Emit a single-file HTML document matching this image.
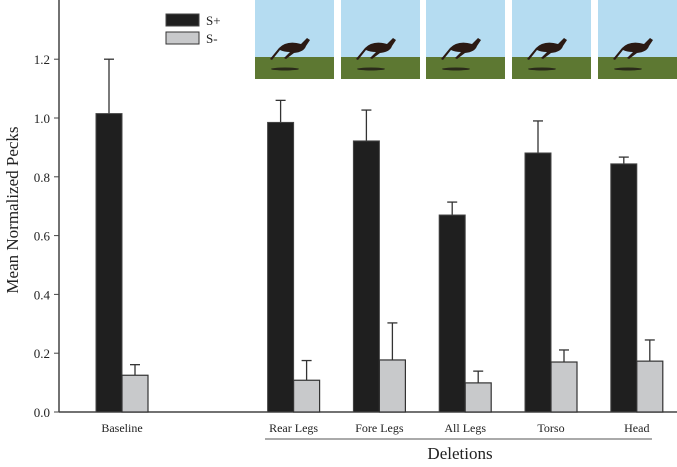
<!DOCTYPE html>
<html><head><meta charset="utf-8"><style>
body{margin:0;background:#fff}
svg text{font-family:"Liberation Serif",serif;fill:#222}
</style></head><body>
<svg width="677" height="462" xmlns="http://www.w3.org/2000/svg">
<g id="thumbs"></g>
<g id="plot"></g>
</svg>
<script>
const categories=["Baseline","Rear Legs","Fore Legs","All Legs","Torso","Head"];
const slots=[0,2,3,4,5,6];
const sPlus=[1.015,0.985,0.922,0.670,0.881,0.844];
const sPlusErr=[0.185,0.075,0.105,0.044,0.109,0.023];
const sMinus=[0.125,0.108,0.177,0.099,0.170,0.173];
const sMinusErr=[0.036,0.067,0.126,0.040,0.041,0.072];
const yTicks=[0,0.2,0.4,0.6,0.8,1.0,1.2];
const NS="http://www.w3.org/2000/svg";
const svg=document.querySelector('svg');
const plot=document.getElementById('plot');
const thumbs=document.getElementById('thumbs');
const y=v=>412-v*294;
const x=s=>122+s*85.8;
const bw=26;
function el(t,a,p){const e=document.createElementNS(NS,t);for(const k in a)e.setAttribute(k,a[k]);(p||plot).appendChild(e);return e;}
// thumbnails
const thumbX=[255,341,426,512,598];
thumbX.forEach((tx,i)=>{
 const g=el('g',{},thumbs);
 
 
 el('rect',{x:tx,y:0,width:79,height:57,fill:'#b5dcf1'},g);
 el('rect',{x:tx,y:57,width:79,height:22,fill:'#5d7832'},g);
 el('ellipse',{cx:tx+30,cy:69,rx:14,ry:1.5,fill:'#2a2a1a'},g);
 el('path',{d:`M${tx+24} 48 q8 -8 22 -4 l6 -6 l3 2 l-4 6 q-2 6 -12 7 l-8 6 l-2 -1 l6 -6 q-6 0 -10 -2 l-8 10 l-2 -1 z`,fill:'#2b1a14'},g);
});
// y axis
el('line',{x1:59,y1:0,x2:59,y2:412,stroke:'#444','stroke-width':1.5});
el('line',{x1:59,y1:412,x2:677,y2:412,stroke:'#444','stroke-width':1.5});
yTicks.forEach(t=>{
 el('line',{x1:54,y1:y(t),x2:59,y2:y(t),stroke:'#444'});
 const tx=el('text',{x:50,y:y(t)+5,'text-anchor':'end','font-size':13});
 tx.textContent=t.toFixed(1);
 
 
});
const yt=el('text',{x:0,y:0,'font-size':17,'text-anchor':'middle',transform:'translate(18,210) rotate(-90)'});
yt.textContent='Mean Normalized Pecks';


// bars
categories.forEach((c,i)=>{
 const cx=x(slots[i]);
 const e1=el('line',{x1:cx-bw/2,x2:cx-bw/2,y1:y(sPlus[i]),y2:y(sPlus[i]+sPlusErr[i]),stroke:'#333','stroke-width':1.3});
 el('line',{x1:cx-bw/2-5,x2:cx-bw/2+5,y1:y(sPlus[i]+sPlusErr[i]),y2:y(sPlus[i]+sPlusErr[i]),stroke:'#333','stroke-width':1.3});
 const b1=el('rect',{x:cx-bw,y:y(sPlus[i]),width:bw,height:y(0)-y(sPlus[i]),fill:'#1f1f1f',stroke:'#444'});
 
 
 el('line',{x1:cx+bw/2,x2:cx+bw/2,y1:y(sMinus[i]),y2:y(sMinus[i]+sMinusErr[i]),stroke:'#333','stroke-width':1.3});
 el('line',{x1:cx+bw/2-5,x2:cx+bw/2+5,y1:y(sMinus[i]+sMinusErr[i]),y2:y(sMinus[i]+sMinusErr[i]),stroke:'#333','stroke-width':1.3});
 const b2=el('rect',{x:cx,y:y(sMinus[i]),width:bw,height:y(0)-y(sMinus[i]),fill:'#c8c9cb',stroke:'#333','stroke-width':1.2});
 
 
 const lt=el('text',{x:cx,y:432,'text-anchor':'middle','font-size':12});
 lt.textContent=c;
 
 
});
el('line',{x1:265,y1:439,x2:652,y2:439,stroke:'#555'});
const dt=el('text',{x:460,y:459,'text-anchor':'middle','font-size':17});
dt.textContent='Deletions';


// legend
const lg=el('g',{});


el('rect',{x:166,y:14,width:33,height:12,fill:'#1f1f1f',stroke:'#444'},lg);
el('rect',{x:166,y:32,width:33,height:12,fill:'#c8c9cb',stroke:'#333'},lg);
const l1=el('text',{x:206,y:25,'font-size':13},lg);l1.textContent='S+';
const l2=el('text',{x:206,y:43,'font-size':13},lg);l2.textContent='S-';
</script>
</body></html>
